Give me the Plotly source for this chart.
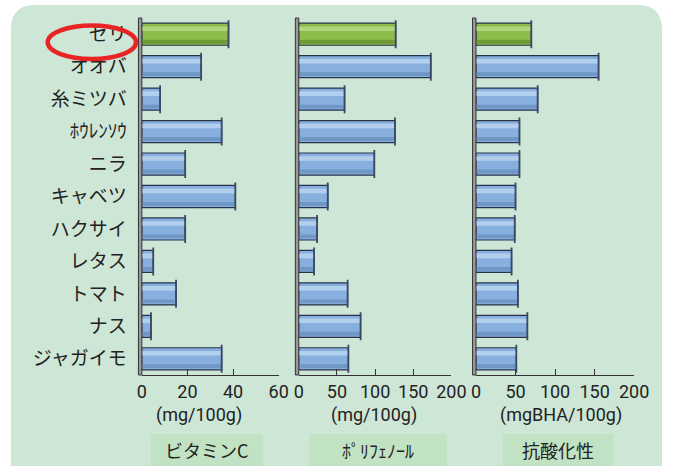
import plotly.graph_objects as go

categories = ["セリ", "オオバ", "糸ミツバ", "ﾎｳﾚﾝｿｳ", "ニラ", "キャベツ",
              "ハクサイ", "レタス", "トマト", "ナス", "ジャガイモ"]
vitamin_c = [38, 26, 8, 35, 19, 41, 19, 5, 15, 4, 35]
polyphenol = [127, 173, 60, 126, 99, 38, 24, 20, 64, 81, 65]
antioxidant = [70, 155, 78, 55, 55, 50, 49, 45, 53, 65, 51]

panel_titles = ["ビタミンC", "ﾎﾟﾘﾌｪﾉｰﾙ", "抗酸化性"]
unit_labels = ["(mg/100g)", "(mg/100g)", "(mgBHA/100g)"]
x_ranges = [[0, 60], [0, 200], [0, 200]]
x_ticks = [[0, 20, 40, 60], [0, 50, 100, 150, 200], [0, 50, 100, 150, 200]]

W, H = 677, 466
def px(x): return x / W
def py(y): return 1 - y / H

domains = [[px(141), px(282)], [px(302.7), px(460)], [px(485.3), px(648.3)]]
ydom = [py(375), py(18)]

main_colors = ["#8dbb4c" if i == 0 else "#88b0de" for i in range(len(categories))]
hl_colors = ["#b1d67a" if i == 0 else "#b3cfee" for i in range(len(categories))]
dark_colors = ["#6f9a35" if i == 0 else "#6f97c6" for i in range(len(categories))]

fig = go.Figure()
series = [vitamin_c, polyphenol, antioxidant]
for k, vals in enumerate(series):
    xa = "x" if k == 0 else f"x{k+1}"
    fig.add_trace(go.Bar(x=vals, y=categories, orientation="h", xaxis=xa, yaxis="y",
                         width=0.68, marker=dict(color=main_colors, line=dict(color="#28324a", width=1.2)),
                         hoverinfo="x+y", showlegend=False))
    fig.add_trace(go.Bar(x=vals, y=categories, orientation="h", xaxis=xa, yaxis="y",
                         width=0.14, offset=-0.24, marker=dict(color=hl_colors, line=dict(width=0)),
                         hoverinfo="skip", showlegend=False))
    fig.add_trace(go.Bar(x=vals, y=categories, orientation="h", xaxis=xa, yaxis="y",
                         width=0.12, offset=0.17, marker=dict(color=dark_colors, line=dict(width=0)),
                         hoverinfo="skip", showlegend=False))
    # end caps of the cylinders
    fig.add_trace(go.Scatter(x=vals, y=categories, mode="markers", xaxis=xa, yaxis="y",
                             marker=dict(symbol="line-ns", size=20, color=dark_colors,
                                         line=dict(color="#3a4866", width=1.8)),
                             hoverinfo="skip", showlegend=False))

num_font = dict(family="Liberation Sans Narrow, Roboto, sans-serif", size=18, color="#222")
for k in range(3):
    key = "xaxis" if k == 0 else f"xaxis{k+1}"
    fig.layout[key] = dict(domain=domains[k], range=x_ranges[k], anchor="y",
                           tickvals=x_ticks[k], ticks="inside", ticklen=6, tickcolor="#333",
                           showline=True, linecolor="#333", linewidth=1.2,
                           showgrid=False, zeroline=False, tickfont=num_font, fixedrange=True)

fig.update_layout(
    width=W, height=H,
    margin=dict(l=0, r=0, t=0, b=0),
    paper_bgcolor="white", plot_bgcolor="rgba(0,0,0,0)",
    barmode="overlay",
    yaxis=dict(domain=ydom, categoryorder="array", categoryarray=categories,
               range=[len(categories) - 0.5, -0.5], showgrid=False, showline=False, zeroline=False,
               ticks="", ticklabelstandoff=14,
               tickfont=dict(family="Noto Sans CJK JP", size=19, color="#222"),
               anchor="x", fixedrange=True),
    font=dict(family="Noto Sans CJK JP"),
)

shapes = []
# rounded background panel
rx, ry = 25 / W, 25 / H
x0, x1, yt = px(6), px(677), py(5)
shapes.append(dict(type="path", xref="paper", yref="paper", layer="below",
                   path=(f"M {x0},-0.01 L {x0},{yt-ry} Q {x0},{yt} {x0+rx},{yt} "
                         f"L {x1-rx},{yt} Q {x1},{yt} {x1},{yt-ry} L {x1},-0.01 Z"),
                   fillcolor="#cde6d6", line=dict(width=0)))
# 3D wall strips on left of each panel
for d in domains:
    shapes.append(dict(type="rect", xref="paper", yref="paper",
                       x0=d[0] - px(3.5), x1=d[0], y0=ydom[0], y1=ydom[1],
                       fillcolor="#9a9a9a", line=dict(color="#333", width=1)))
# panel label boxes
boxes = [(150, 266), (314, 455), (513, 627)]
for (a, b) in boxes:
    shapes.append(dict(type="rect", xref="paper", yref="paper", layer="below",
                       x0=px(a), x1=px(b), y0=-0.01, y1=py(434),
                       fillcolor="#c1e2c3", line=dict(width=0)))
# red ellipse
shapes.append(dict(type="circle", xref="paper", yref="paper",
                   x0=px(44), x1=px(135), y0=py(59), y1=py(25.5),
                   line=dict(color="#e82424", width=4.5)))
fig.update_layout(shapes=shapes)

ann = []
unit_x = [200, 380, 573]
title_x = [208, 384, 570]
for k in range(3):
    ann.append(dict(x=px(unit_x[k]), y=py(415), xref="paper", yref="paper", text=unit_labels[k],
                    showarrow=False, font=num_font, xanchor="center", yanchor="middle"))
    ann.append(dict(x=px(title_x[k]), y=py(450), xref="paper", yref="paper", text=panel_titles[k],
                    showarrow=False, font=dict(family="Noto Sans CJK JP", size=18, color="#222"),
                    xanchor="center", yanchor="middle"))
fig.update_layout(annotations=ann)

fig.write_html("out.html")
